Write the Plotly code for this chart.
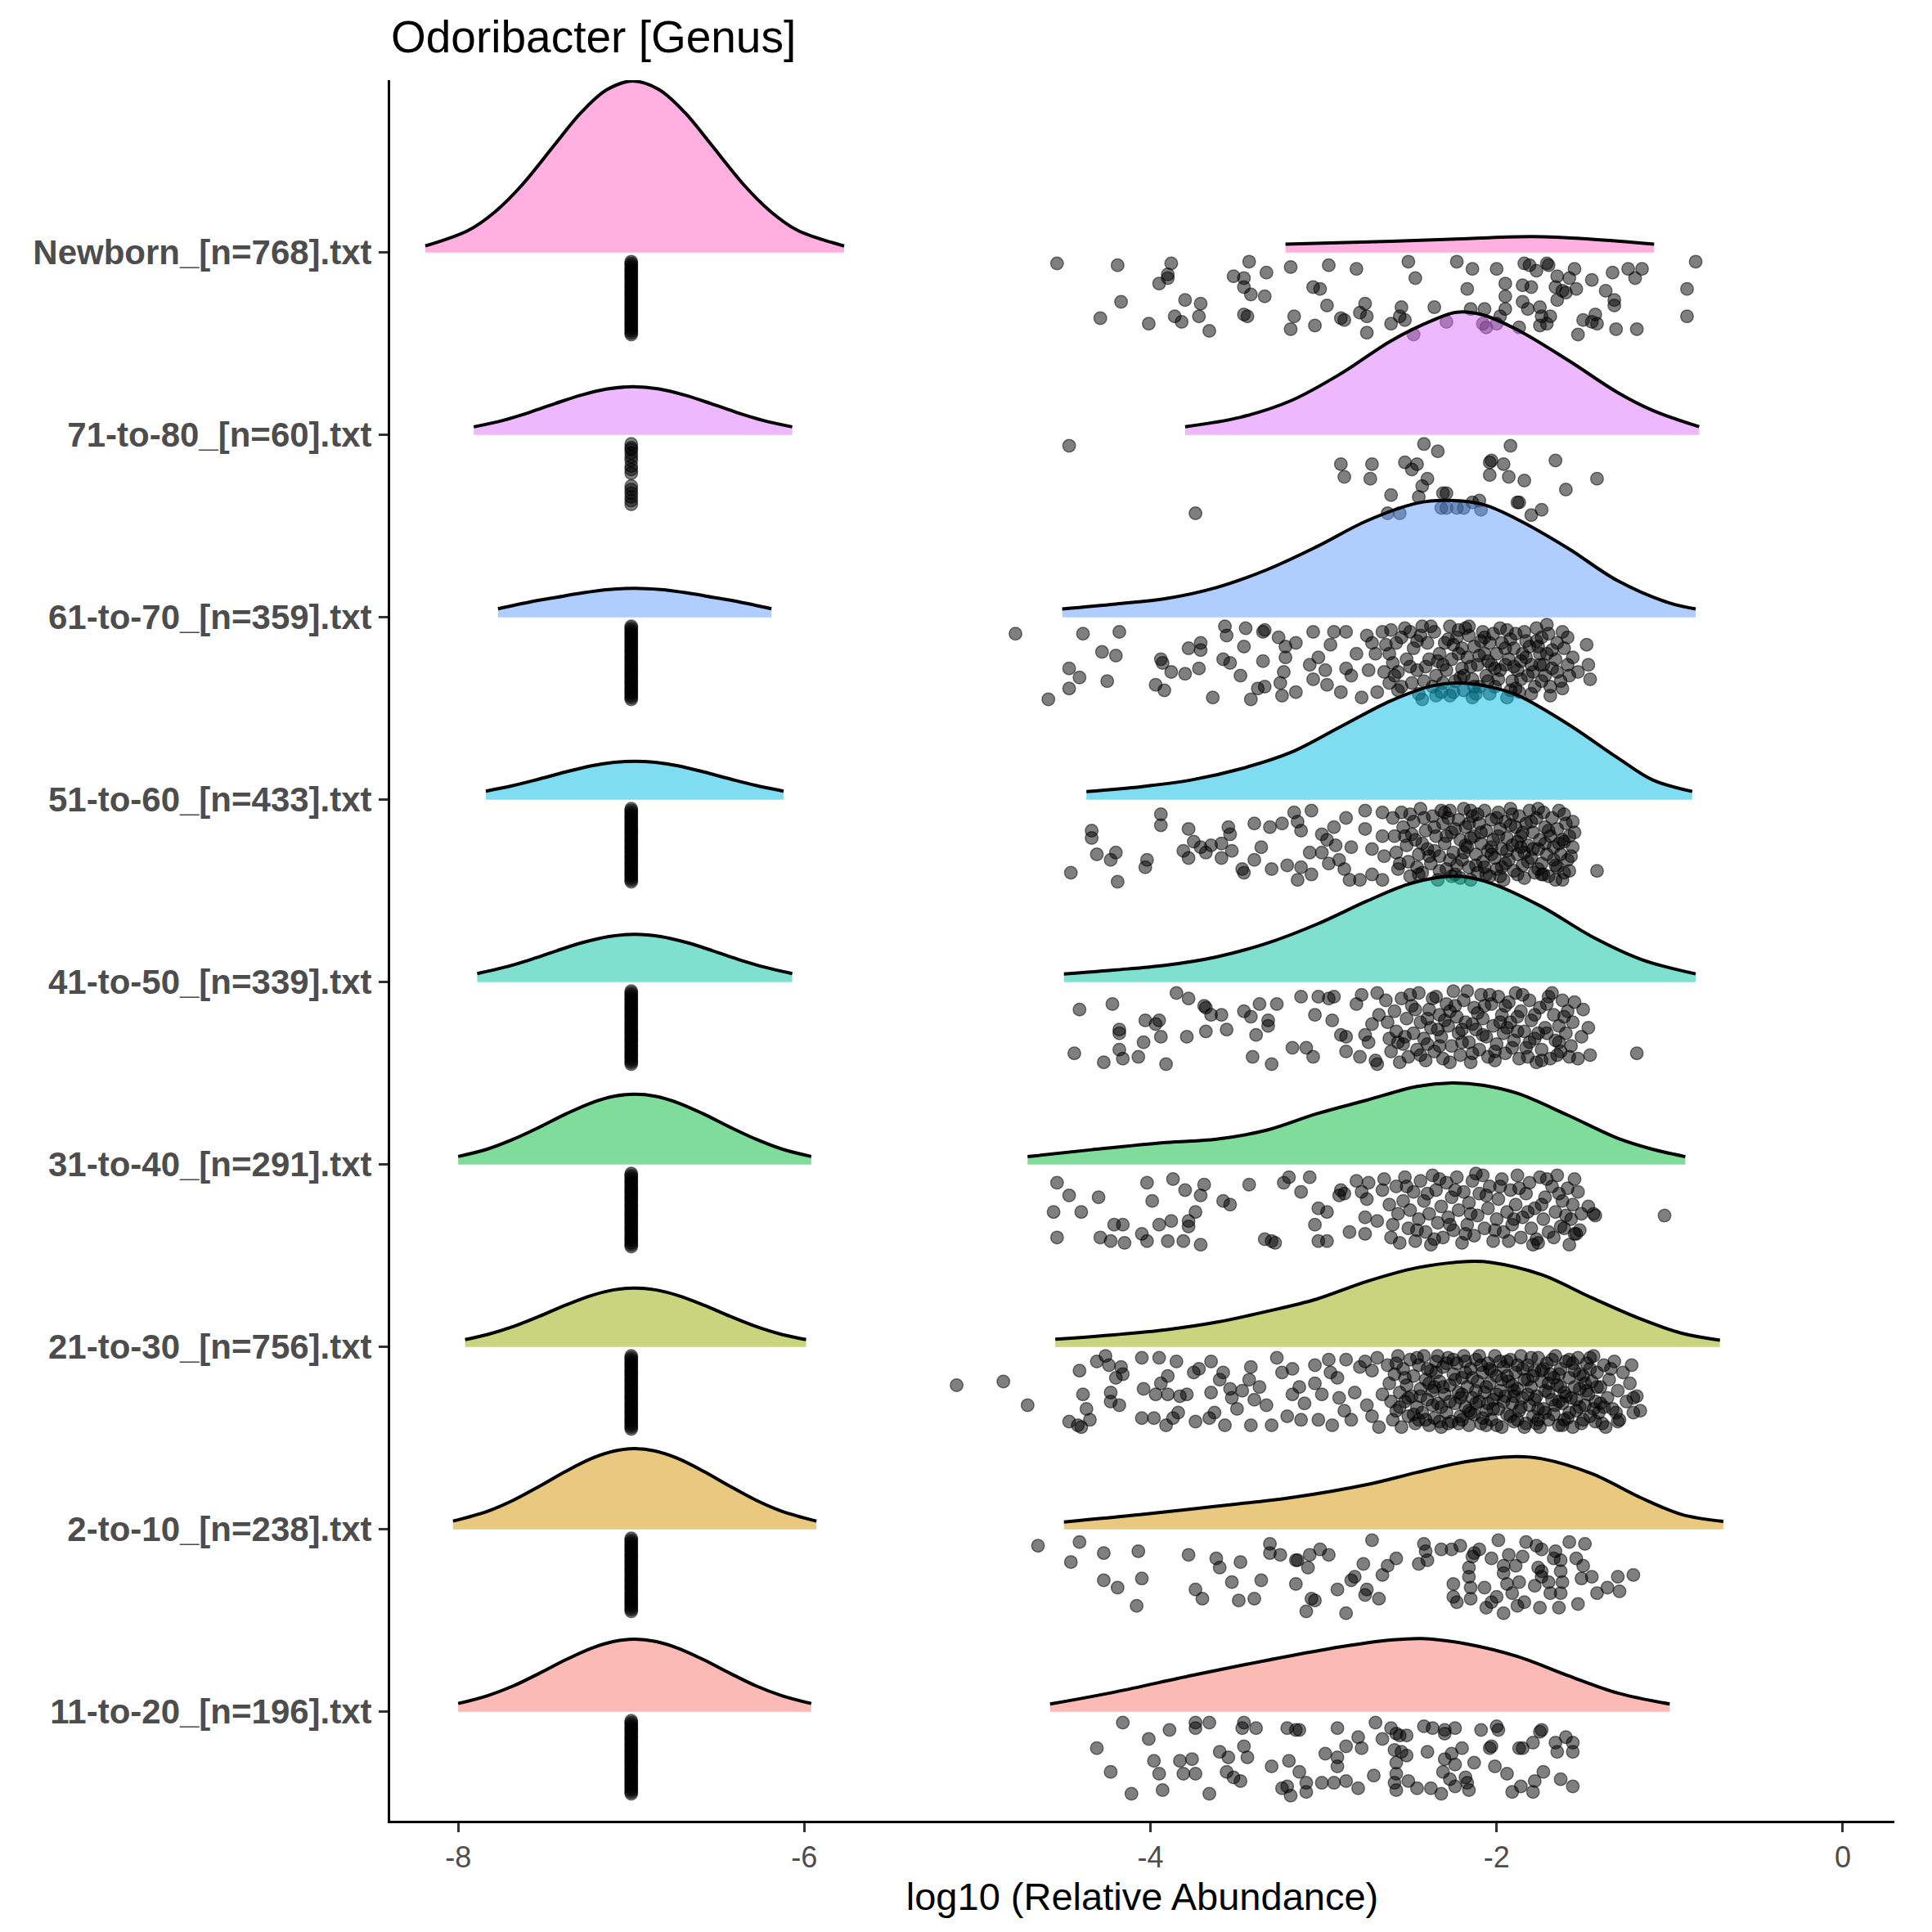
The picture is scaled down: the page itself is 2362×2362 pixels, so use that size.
import plotly.graph_objects as go

# ridgeline / raincloud of log10 relative abundance per age group
groups = ["11-to-20_[n=196].txt", "2-to-10_[n=238].txt", "21-to-30_[n=756].txt",
          "31-to-40_[n=291].txt", "41-to-50_[n=339].txt", "51-to-60_[n=433].txt",
          "61-to-70_[n=359].txt", "71-to-80_[n=60].txt", "Newborn_[n=768].txt"]
fills = ["rgba(248,118,109,0.5)", "rgba(211,146,0,0.5)", "rgba(147,170,0,0.5)",
         "rgba(0,186,56,0.5)", "rgba(0,193,159,0.5)", "rgba(0,185,227,0.5)",
         "rgba(97,156,255,0.5)", "rgba(219,114,251,0.5)", "rgba(255,97,195,0.5)"]
xticks = [-8, -6, -4, -2, 0]

# density heights (left hump = zero values at -7, right hump = detected values)
g11_left_x = [-8.0, -7.83, -7.68, -7.53, -7.38, -7.23, -7.10, -6.98, -6.86, -6.73, -6.58, -6.43, -6.28, -6.13, -5.96]
g11_left_h = [0.045, 0.088, 0.142, 0.211, 0.284, 0.348, 0.385, 0.397, 0.385, 0.348, 0.284, 0.211, 0.142, 0.088, 0.045]
g11_right_x = [-4.58, -4.20, -3.76, -3.33, -2.90, -2.61, -2.43, -2.17, -1.88, -1.59, -1.30, -1.00]
g11_right_h = [0.042, 0.109, 0.199, 0.281, 0.356, 0.393, 0.401, 0.371, 0.303, 0.199, 0.102, 0.042]

g2_left_x = [-8.03, -7.83, -7.68, -7.53, -7.38, -7.23, -7.10, -6.98, -6.86, -6.73, -6.58, -6.43, -6.28, -6.13, -5.93]
g2_left_h = [0.045, 0.099, 0.16, 0.236, 0.317, 0.388, 0.429, 0.442, 0.429, 0.388, 0.317, 0.236, 0.16, 0.099, 0.045]
g2_right_x = [-4.50, -4.05, -3.62, -3.19, -2.75, -2.46, -2.17, -1.91, -1.74, -1.45, -1.16, -0.93, -0.69]
g2_right_h = [0.04, 0.081, 0.126, 0.173, 0.245, 0.312, 0.372, 0.398, 0.387, 0.305, 0.17, 0.081, 0.043]

g21_left_x = [-7.96, -7.83, -7.68, -7.53, -7.38, -7.23, -7.10, -6.98, -6.86, -6.73, -6.58, -6.43, -6.28, -6.13, -5.99]
g21_left_h = [0.04, 0.068, 0.112, 0.168, 0.229, 0.282, 0.313, 0.323, 0.313, 0.282, 0.229, 0.168, 0.112, 0.068, 0.04]
g21_right_x = [-4.55, -4.20, -3.91, -3.62, -3.33, -3.04, -2.75, -2.46, -2.17, -2.03, -1.74, -1.45, -1.16, -0.93, -0.71]
g21_right_h = [0.042, 0.067, 0.094, 0.135, 0.194, 0.262, 0.359, 0.434, 0.468, 0.463, 0.396, 0.269, 0.15, 0.075, 0.037]

g31_left_x = [-8.0, -7.83, -7.68, -7.53, -7.38, -7.23, -7.10, -6.98, -6.86, -6.73, -6.58, -6.43, -6.28, -6.13, -5.96]
g31_left_h = [0.044, 0.085, 0.139, 0.205, 0.276, 0.338, 0.374, 0.385, 0.374, 0.338, 0.276, 0.205, 0.139, 0.085, 0.044]
g31_right_x = [-4.71, -4.34, -3.91, -3.62, -3.33, -3.04, -2.75, -2.46, -2.26, -2.08, -1.88, -1.59, -1.30, -1.10, -0.91]
g31_right_h = [0.043, 0.081, 0.121, 0.139, 0.188, 0.278, 0.353, 0.428, 0.447, 0.435, 0.39, 0.271, 0.144, 0.084, 0.043]

g41_left_x = [-7.89, -7.73, -7.58, -7.43, -7.28, -7.13, -6.98, -6.83, -6.68, -6.53, -6.38, -6.23, -6.07]
g41_left_h = [0.047, 0.082, 0.124, 0.172, 0.217, 0.25, 0.262, 0.25, 0.217, 0.172, 0.124, 0.082, 0.047]
g41_right_x = [-4.50, -4.20, -3.91, -3.62, -3.33, -3.04, -2.75, -2.52, -2.32, -2.20, -2.03, -1.74, -1.45, -1.16, -0.85]
g41_right_h = [0.045, 0.067, 0.093, 0.138, 0.212, 0.317, 0.444, 0.534, 0.576, 0.579, 0.541, 0.414, 0.25, 0.123, 0.045]

g51_left_x = [-7.84, -7.68, -7.53, -7.38, -7.23, -7.10, -6.98, -6.86, -6.73, -6.58, -6.43, -6.28, -6.12]
g51_left_h = [0.047, 0.078, 0.114, 0.152, 0.186, 0.205, 0.211, 0.205, 0.186, 0.152, 0.114, 0.078, 0.047]
g51_right_x = [-4.37, -4.05, -3.76, -3.48, -3.19, -2.90, -2.61, -2.37, -2.20, -2.03, -1.88, -1.59, -1.30, -1.10, -0.87]
g51_right_h = [0.045, 0.072, 0.109, 0.169, 0.259, 0.401, 0.543, 0.625, 0.64, 0.617, 0.573, 0.416, 0.229, 0.109, 0.045]

g61_left_x = [-7.77, -7.58, -7.43, -7.28, -7.13, -6.98, -6.83, -6.68, -6.53, -6.38, -6.19]
g61_left_h = [0.047, 0.085, 0.11, 0.134, 0.152, 0.159, 0.152, 0.134, 0.11, 0.085, 0.047]
g61_right_x = [-4.51, -4.20, -3.91, -3.62, -3.33, -3.04, -2.75, -2.46, -2.29, -2.08, -1.88, -1.59, -1.30, -1.01, -0.85]
g61_right_h = [0.046, 0.073, 0.103, 0.163, 0.26, 0.387, 0.529, 0.626, 0.641, 0.619, 0.537, 0.38, 0.2, 0.081, 0.046]

g71_left_x = [-7.91, -7.74, -7.59, -7.44, -7.29, -7.14, -6.99, -6.84, -6.69, -6.54, -6.39, -6.24, -6.07]
g71_left_h = [0.044, 0.080, 0.123, 0.172, 0.218, 0.252, 0.264, 0.252, 0.218, 0.172, 0.123, 0.080, 0.044]
g71_right_x = [-3.80, -3.48, -3.19, -2.90, -2.61, -2.37, -2.23, -2.08, -1.88, -1.59, -1.30, -1.10, -0.83]
g71_right_h = [0.045, 0.097, 0.187, 0.336, 0.516, 0.628, 0.673, 0.658, 0.576, 0.411, 0.232, 0.135, 0.045]

nb_left_x = [-8.19, -7.94, -7.79, -7.64, -7.44, -7.29, -7.14, -6.99, -6.84, -6.69, -6.54, -6.34, -6.19, -6.04, -5.77]
nb_left_h = [0.036, 0.122, 0.221, 0.361, 0.594, 0.767, 0.893, 0.94, 0.893, 0.767, 0.594, 0.361, 0.221, 0.122, 0.036]
nb_right_x = [-3.22, -2.61, -2.17, -1.79, -1.45, -1.09]
nb_right_h = [0.046, 0.061, 0.076, 0.087, 0.073, 0.046]

# zero abundance samples (plotted at log10 = -7), jitter below the ridge baseline
zero_value = -7
zero_offsets = [0.05, 0.06, 0.07, 0.08, 0.09, 0.10, 0.11, 0.12, 0.13, 0.14, 0.15, 0.16, 0.17, 0.18,
                0.19, 0.20, 0.21, 0.22, 0.23, 0.24, 0.25, 0.26, 0.27, 0.28, 0.29, 0.30, 0.31, 0.32,
                0.33, 0.34, 0.35, 0.36, 0.37, 0.38, 0.39, 0.40, 0.41, 0.42, 0.43, 0.44, 0.45]
zero_offsets_71 = [0.05, 0.07, 0.08, 0.10, 0.12, 0.14, 0.17, 0.19, 0.21,
                   0.28, 0.30, 0.32, 0.34, 0.36, 0.38]

# detected samples: (log10 abundance, jitter below baseline)
g11_pts = [(-4.16,0.06),(-4.01,0.15),(-3.89,0.10),(-4.31,0.20),(-4.23,0.33),(-4.11,0.45),(-3.98,0.27),(-3.95,0.34),
    (-3.93,0.43),(-3.83,0.27),(-3.76,0.26),(-3.81,0.34),(-3.74,0.34),(-3.74,0.06),(-3.74,0.09),(-3.66,0.06),
    (-3.60,0.22),(-3.55,0.25),(-3.56,0.33),(-3.52,0.36),(-3.48,0.38),(-3.66,0.45),(-3.46,0.06),(-3.47,0.09),
    (-3.39,0.09),(-3.46,0.19),(-3.44,0.25),(-3.30,0.30),(-3.21,0.09),(-3.16,0.10),(-3.14,0.10),(-3.20,0.27),
    (-3.14,0.33),(-3.24,0.42),(-3.21,0.41),(-3.19,0.46),(-3.10,0.39),(-3.10,0.44),(-3.01,0.39),(-2.99,0.23),
    (-2.92,0.09),(-2.92,0.25),(-2.92,0.30),(-2.87,0.19),(-2.87,0.38),(-2.94,0.39),(-2.80,0.14),(-2.78,0.20),
    (-2.80,0.42),(-2.71,0.35),(-2.70,0.06),(-2.66,0.15),(-2.61,0.09),(-2.58,0.12),(-2.56,0.13),(-2.52,0.13),
    (-2.59,0.21),(-2.55,0.22),(-2.52,0.24),(-2.58,0.28),(-2.58,0.34),(-2.59,0.39),(-2.58,0.43),(-2.51,0.38),
    (-2.46,0.42),(-2.42,0.08),(-2.37,0.09),(-2.30,0.10),(-2.24,0.09),(-2.30,0.12),(-2.40,0.22),(-2.30,0.26),
    (-2.26,0.23),(-2.24,0.29),(-2.20,0.20),(-2.31,0.33),(-2.27,0.37),(-2.18,0.36),(-2.17,0.39),(-2.38,0.42),
    (-2.32,0.45),(-2.24,0.41),(-2.16,0.43),(-2.13,0.28),(-2.09,0.10),(-2.00,0.08),(-1.99,0.10),(-2.04,0.20),
    (-2.01,0.30),(-1.94,0.34),(-1.91,0.44),(-1.86,0.41),(-1.87,0.20),(-1.85,0.20),(-1.79,0.17),(-1.75,0.11),
    (-1.74,0.10),(-1.73,0.33),(-1.78,0.38),(-1.79,0.44),(-1.66,0.17),(-1.65,0.22),(-1.60,0.14),(-1.56,0.17),
    (-1.56,0.22),(-1.63,0.37),(-1.56,0.41),(-2.03,0.19)]

g2_pts = [(-4.65,0.09),(-4.41,0.07),(-4.46,0.18),(-4.27,0.13),(-4.07,0.12),(-4.27,0.28),(-4.19,0.32),(-4.05,0.27),
    (-4.08,0.42),(-3.78,0.14),(-3.62,0.16),(-3.60,0.21),(-3.48,0.18),(-3.74,0.33),(-3.70,0.38),(-3.53,0.29),
    (-3.49,0.39),(-3.40,0.38),(-3.36,0.28),(-3.31,0.08),(-3.31,0.13),(-3.25,0.14),(-3.16,0.17),(-3.15,0.17),
    (-3.08,0.14),(-3.09,0.21),(-3.02,0.11),(-2.97,0.14),(-3.16,0.30),(-3.07,0.38),(-3.05,0.39),(-3.10,0.45),
    (-2.92,0.33),(-2.84,0.28),(-2.82,0.26),(-2.75,0.33),(-2.76,0.36),(-2.68,0.38),(-2.87,0.46),(-2.72,0.06),
    (-2.77,0.19),(-2.66,0.25),(-2.63,0.20),(-2.58,0.16),(-2.45,0.19),(-2.42,0.08),(-2.41,0.12),(-2.40,0.17),
    (-2.32,0.11),(-2.26,0.11),(-2.21,0.09),(-2.13,0.13),(-2.14,0.15),(-2.10,0.11),(-1.99,0.06),(-1.83,0.07),
    (-1.77,0.09),(-1.74,0.11),(-1.66,0.12),(-1.58,0.07),(-1.49,0.08),(-1.93,0.14),(-1.85,0.15),(-1.67,0.16),
    (-1.63,0.17),(-1.54,0.16),(-1.50,0.20),(-2.16,0.21),(-1.96,0.20),(-1.89,0.20),(-1.74,0.23),(-1.63,0.23),
    (-2.16,0.26),(-1.96,0.24),(-1.74,0.26),(-1.51,0.27),(-1.45,0.26),(-1.30,0.26),(-1.21,0.25),(-2.25,0.30),
    (-2.15,0.32),(-2.07,0.32),(-1.94,0.30),(-1.87,0.29),(-1.78,0.31),(-1.70,0.29),(-1.62,0.29),(-2.25,0.37),
    (-2.15,0.38),(-2.00,0.37),(-1.91,0.35),(-1.84,0.40),(-1.69,0.35),(-1.63,0.35),(-1.42,0.35),(-1.36,0.32),
    (-1.29,0.34),(-2.06,0.43),(-1.96,0.46),(-1.75,0.43),(-1.64,0.43),(-1.53,0.41),(-1.88,0.42),(-2.23,0.40),
    (-2.03,0.40),(-1.76,0.21),(-2.03,0.16)]

g21_pts = [(-5.12,0.21),(-4.85,0.19),(-4.71,0.32),
    (-4.47,0.41),(-4.42,0.43),(-4.40,0.44),(-4.35,0.40),(-4.37,0.34),(-4.39,0.26),(-4.41,0.13),(-4.31,0.08),
    (-4.26,0.05),(-4.24,0.10),(-4.17,0.11),(-4.16,0.15),(-4.20,0.17),(-4.23,0.25),(-4.18,0.32),(-4.23,0.30),
    (-4.05,0.06),(-3.95,0.06),(-4.04,0.23),(-3.97,0.26),(-4.05,0.39),(-3.98,0.39),(-3.94,0.20),(-3.90,0.16),
    (-3.85,0.08),(-3.90,0.26),(-3.83,0.27),(-3.79,0.26),(-3.91,0.43),(-3.87,0.39),(-3.84,0.36),(-3.74,0.41),
    (-3.75,0.14),(-3.72,0.12),(-3.65,0.08),(-3.65,0.25),(-3.63,0.36),(-3.66,0.39),(-3.60,0.18),(-3.58,0.14),
    (-3.57,0.43),(-3.54,0.23),(-3.53,0.28),(-3.50,0.34),(-3.47,0.24),(-3.42,0.11),(-3.43,0.18),(-3.40,0.29),
    (-3.42,0.43),(-3.37,0.22),(-3.33,0.32),(-3.30,0.43),(-3.27,0.06),(-3.24,0.14),(-3.21,0.38),(-3.18,0.26),
    (-3.18,0.12),(-3.14,0.22),(-3.13,0.40),(-3.11,0.31),(-3.05,0.20),(-3.05,0.10),(-3.03,0.40),(-3.01,0.26),
    (-2.97,0.07),(-2.96,0.14),(-2.95,0.43),(-2.92,0.17),(-2.91,0.28),(-2.88,0.35),(-2.87,0.07),(-2.84,0.40),
    (-2.82,0.25),(-2.79,0.11),(-2.76,0.08),(-2.75,0.32),(-2.72,0.13),(-2.72,0.38),(-2.69,0.06),(-2.66,0.26),
    (-2.68,0.44),
    (-2.63,0.10),(-2.62,0.20),(-2.61,0.30),(-2.60,0.40),(-2.59,0.15),(-2.58,0.35),(-2.57,0.05),(-2.56,0.25),
    (-2.55,0.44),(-2.54,0.12),(-2.53,0.30),(-2.52,0.21),(-2.51,0.38),(-2.50,0.07),(-2.49,0.27),(-2.48,0.16),
    (-2.47,0.42),(-2.46,0.33),(-2.45,0.10),(-2.44,0.23),(-2.43,0.36),(-2.42,0.05),(-2.41,0.18),(-2.40,0.29),
    (-2.39,0.43),(-2.38,0.13),(-2.37,0.24),(-2.36,0.39),(-2.35,0.08),(-2.34,0.31),(-2.33,0.19),(-2.32,0.44),
    (-2.31,0.11),(-2.30,0.26),(-2.29,0.36),(-2.28,0.06),(-2.27,0.21),(-2.26,0.41),(-2.25,0.15),(-2.24,0.31),
    (-2.23,0.09),(-2.22,0.25),(-2.21,0.38),(-2.20,0.17),(-2.19,0.05),(-2.18,0.33),(-2.17,0.22),(-2.16,0.43),
    (-2.15,0.12),(-2.14,0.28),(-2.13,0.37),(-2.12,0.07),(-2.11,0.19),(-2.10,0.30),(-2.09,0.42),(-2.08,0.14),
    (-2.07,0.25),(-2.06,0.35),(-2.05,0.09),(-2.04,0.20),(-2.03,0.40),(-2.02,0.29),(-2.01,0.05),(-2.00,0.16),
    (-1.99,0.34),(-1.98,0.24),(-1.97,0.44),(-1.96,0.11),(-1.95,0.27),(-1.94,0.37),(-1.93,0.19),(-1.92,0.07),
    (-1.91,0.31),(-1.90,0.41),(-1.89,0.14),(-1.88,0.23),(-1.87,0.35),(-1.86,0.05),(-1.85,0.28),(-1.84,0.18),
    (-1.83,0.42),(-1.82,0.10),(-1.81,0.32),(-1.80,0.22),(-1.79,0.38),(-1.78,0.13),(-1.77,0.27),(-1.76,0.06),
    (-1.75,0.44),(-1.74,0.19),(-1.73,0.34),(-1.72,0.24),(-1.71,0.09),(-1.70,0.40),(-1.69,0.15),(-1.68,0.29),
    (-1.67,0.37),(-1.66,0.05),(-1.65,0.21),(-1.64,0.43),(-1.63,0.12),(-1.62,0.31),(-1.61,0.25),(-1.60,0.08),
    (-1.59,0.39),(-1.58,0.17),(-1.57,0.28),(-1.56,0.44),(-1.55,0.13),(-1.54,0.35),(-1.53,0.06),(-1.52,0.23),
    (-1.51,0.42),(-1.50,0.16),(-1.49,0.32),(-1.48,0.09),(-1.47,0.26),(-1.46,0.38),(-1.45,0.19),(-1.44,0.05),
    (-1.43,0.30),(-1.42,0.14),(-1.41,0.36),(-1.40,0.22),(-1.39,0.42),(-1.38,0.10),(-1.36,0.28),(-1.35,0.18),
    (-1.33,0.34),(-1.32,0.08),(-1.30,0.24),(-1.29,0.40),(-1.27,0.14),(-1.25,0.30),(-1.23,0.20),(-1.21,0.36),
    (-1.19,0.27),(-1.22,0.10),(-1.21,0.28),(-1.17,0.35),(-1.37,0.44),(-1.30,0.41),
    (-2.45,0.40),(-2.40,0.12),(-2.36,0.22),(-2.32,0.33),(-2.28,0.42),(-2.25,0.07),(-2.21,0.28),(-2.18,0.14),
    (-2.15,0.36),(-2.12,0.24),(-2.09,0.10),(-2.06,0.43),(-2.03,0.13),(-2.00,0.26),(-1.97,0.18),(-1.94,0.08),
    (-1.91,0.21),(-1.88,0.40),(-1.85,0.12),(-1.82,0.26),(-1.79,0.16),(-1.76,0.34),(-1.73,0.12),(-1.70,0.25),
    (-1.67,0.17),(-1.64,0.30),(-1.61,0.40),(-1.58,0.07),(-1.55,0.22),(-1.52,0.33),(-1.49,0.20),(-1.46,0.12),
    (-1.43,0.41),(-1.40,0.31),(-2.20,0.40),(-2.05,0.31),(-1.90,0.27),(-1.77,0.42),(-2.34,0.05),(-1.63,0.22)]
g21_pts_core = [(-2.58,0.09),(-2.56,0.33),(-2.53,0.17),(-2.51,0.28),(-2.48,0.37),(-2.46,0.06),(-2.44,0.27),
    (-2.41,0.40),(-2.39,0.20),(-2.37,0.32),(-2.35,0.14),(-2.33,0.41),(-2.31,0.22),(-2.29,0.09),(-2.27,0.30),
    (-2.24,0.18),(-2.22,0.42),(-2.20,0.26),(-2.18,0.08),(-2.16,0.35),(-2.14,0.17),(-2.12,0.31),(-2.10,0.05),
    (-2.08,0.39),(-2.06,0.22),(-2.04,0.12),(-2.02,0.34),(-2.00,0.43),(-1.98,0.08),(-1.96,0.30),(-1.94,0.16),
    (-1.92,0.38),(-1.90,0.24),(-1.88,0.10),(-1.86,0.33),(-1.84,0.44),(-1.82,0.18),(-1.80,0.06),(-1.78,0.29),
    (-1.76,0.40),(-1.74,0.13),(-1.72,0.36),(-1.70,0.20),(-1.68,0.07),(-1.66,0.32),(-1.64,0.15),(-1.62,0.43),
    (-1.60,0.27),(-1.58,0.36),(-1.56,0.09),(-1.54,0.29),(-1.52,0.15),(-1.50,0.40),(-1.48,0.24),(-1.46,0.06),
    (-1.44,0.34),(-1.42,0.22),(-1.38,0.33),(-1.34,0.12),(-1.31,0.36)]

g31_pts = [(-4.54,0.10),(-4.47,0.17),(-4.56,0.26),(-4.40,0.26),(-4.54,0.40),(-4.30,0.18),(-4.29,0.40),(-4.23,0.42),
    (-4.21,0.33),(-4.16,0.33),(-4.15,0.43),(-4.05,0.38),(-4.02,0.42),(-4.02,0.10),(-3.99,0.20),(-3.95,0.33),
    (-3.87,0.08),(-3.88,0.31),(-3.90,0.42),(-3.80,0.14),(-3.78,0.31),(-3.78,0.34),(-3.81,0.42),(-3.74,0.26),
    (-3.71,0.17),(-3.69,0.11),(-3.71,0.44),(-3.58,0.20),(-3.54,0.22),(-3.43,0.11),(-3.34,0.41),(-3.30,0.42),
    (-3.28,0.43),(-3.23,0.10),(-3.20,0.07),(-3.13,0.15),(-3.08,0.07),(-3.05,0.33),(-3.03,0.24),(-2.98,0.26),
    (-3.03,0.42),(-2.98,0.42),(-2.90,0.14),(-2.91,0.17),(-2.88,0.16),(-2.85,0.37),(-2.81,0.09),(-2.76,0.38),
    (-2.75,0.19),(-2.74,0.10),(-2.78,0.15),(-2.76,0.29),(-2.69,0.31),(-2.66,0.14),(-2.65,0.08),
    (-2.62,0.22),(-2.61,0.40),(-2.60,0.33),(-2.58,0.12),(-2.57,0.27),(-2.56,0.43),(-2.54,0.20),(-2.53,0.07),
    (-2.51,0.35),(-2.50,0.25),(-2.48,0.15),(-2.47,0.42),(-2.45,0.30),(-2.44,0.09),(-2.42,0.20),(-2.41,0.37),
    (-2.39,0.27),(-2.38,0.44),(-2.37,0.06),(-2.35,0.14),(-2.34,0.32),(-2.32,0.23),(-2.31,0.40),(-2.29,0.10),
    (-2.28,0.29),(-2.26,0.18),(-2.25,0.36),(-2.23,0.07),(-2.22,0.25),(-2.20,0.43),(-2.19,0.15),(-2.17,0.33),
    (-2.16,0.21),(-2.14,0.09),(-2.13,0.39),(-2.11,0.28),(-2.10,0.16),(-2.08,0.06),(-2.07,0.35),(-2.05,0.24),
    (-2.04,0.12),(-2.02,0.42),(-2.00,0.30),(-1.99,0.19),(-1.97,0.08),(-1.96,0.37),(-1.94,0.26),(-1.92,0.14),
    (-1.91,0.33),(-1.89,0.22),(-1.88,0.06),(-1.86,0.40),(-1.85,0.29),(-1.83,0.16),(-1.81,0.10),(-1.80,0.35),
    (-1.78,0.24),(-1.76,0.43),(-1.75,0.07),(-1.73,0.30),(-1.72,0.18),(-1.70,0.37),(-1.68,0.12),(-1.66,0.26),
    (-1.65,0.06),(-1.63,0.34),(-1.62,0.20),(-1.60,0.28),(-1.59,0.13),(-1.56,0.22),(-1.55,0.08),(-1.53,0.15),
    (-1.51,0.27),(-1.47,0.23),(-1.44,0.27),(-1.55,0.38),(-1.58,0.44),(-1.03,0.28),(-1.43,0.28),(-1.54,0.38),
    (-1.77,0.41)]
g31_pts_core = [(-2.52,0.12),(-2.46,0.36),(-2.40,0.16),(-2.36,0.41),(-2.33,0.08),(-2.27,0.33),(-2.24,0.14),
    (-2.18,0.38),(-2.15,0.27),(-2.12,0.05),(-2.06,0.17),(-2.01,0.36),(-1.98,0.12),(-1.93,0.42),(-1.90,0.30),
    (-1.87,0.13),(-1.82,0.26),(-1.79,0.44),(-1.74,0.22),(-1.71,0.08),(-1.67,0.40),(-1.64,0.16),(-1.61,0.35),
    (-1.57,0.30),(-1.52,0.36)]

g41_pts = [(-4.41,0.15),(-4.22,0.12),(-4.44,0.39),(-4.27,0.44),(-4.18,0.26),(-4.18,0.28),(-4.18,0.37),(-4.16,0.42),
    (-4.07,0.41),(-4.04,0.33),(-4.03,0.21),(-3.97,0.23),(-3.95,0.21),(-3.94,0.30),(-3.91,0.45),(-3.85,0.06),
    (-3.78,0.09),(-3.79,0.30),(-3.69,0.13),(-3.68,0.14),(-3.68,0.27),(-3.65,0.18),(-3.59,0.18),(-3.56,0.26),
    (-3.46,0.16),(-3.42,0.19),(-3.37,0.12),(-3.32,0.21),(-3.32,0.24),(-3.39,0.29),(-3.41,0.41),(-3.30,0.45),
    (-3.27,0.12),(-3.18,0.36),(-3.10,0.36),(-3.06,0.41),(-3.13,0.08),(-3.05,0.18),(-3.03,0.08),(-2.97,0.09),
    (-2.94,0.08),(-2.95,0.21),(-2.90,0.29),(-2.87,0.30),(-2.87,0.38),(-2.81,0.12),(-2.78,0.07),(-2.79,0.41),
    (-2.76,0.29),(-2.74,0.33),(-2.72,0.23),(-2.69,0.06),(-2.70,0.43),(-2.69,0.45),(-2.68,0.18),
    (-2.64,0.10),(-2.63,0.22),(-2.62,0.31),(-2.61,0.38),(-2.59,0.16),(-2.58,0.27),(-2.56,0.44),(-2.55,0.09),
    (-2.54,0.34),(-2.52,0.20),(-2.51,0.41),(-2.49,0.13),(-2.48,0.28),(-2.46,0.37),(-2.45,0.06),(-2.44,0.22),
    (-2.42,0.31),(-2.41,0.43),(-2.39,0.15),(-2.38,0.25),(-2.36,0.38),(-2.35,0.08),(-2.33,0.18),(-2.32,0.30),
    (-2.31,0.42),(-2.29,0.12),(-2.28,0.24),(-2.26,0.35),(-2.25,0.05),(-2.23,0.19),(-2.22,0.28),(-2.21,0.40),
    (-2.19,0.10),(-2.18,0.22),(-2.16,0.33),(-2.15,0.44),(-2.13,0.14),(-2.12,0.26),(-2.10,0.37),(-2.09,0.07),
    (-2.08,0.20),(-2.06,0.30),(-2.05,0.41),(-2.03,0.12),(-2.02,0.24),(-2.00,0.34),(-1.99,0.08),(-1.97,0.18),
    (-1.96,0.28),(-1.95,0.39),(-1.93,0.11),(-1.92,0.22),(-1.90,0.32),(-1.89,0.06),(-1.87,0.42),(-1.86,0.16),
    (-1.84,0.27),(-1.83,0.36),(-1.81,0.10),(-1.80,0.21),(-1.78,0.31),(-1.77,0.44),(-1.75,0.14),(-1.74,0.37),
    (-1.72,0.25),(-1.70,0.08),(-1.69,0.42),(-1.67,0.18),(-1.66,0.32),(-1.64,0.24),(-1.63,0.38),(-1.62,0.10),
    (-1.60,0.28),(-1.59,0.16),(-1.57,0.35),(-1.56,0.22),(-1.53,0.42),(-1.51,0.30),(-1.50,0.15),(-1.47,0.25),
    (-1.46,0.40),(-1.19,0.39),
    (-2.40,0.34),(-2.34,0.26),(-2.27,0.16),(-2.20,0.33),(-2.14,0.23),(-2.07,0.13),(-2.01,0.38),(-1.94,0.25),
    (-1.88,0.19),(-1.82,0.41),(-1.76,0.28),(-1.71,0.12),(-1.65,0.40),(-2.47,0.15),(-2.53,0.30)]
g41_pts_core = [(-2.57,0.33),(-2.50,0.07),(-2.44,0.40),(-2.40,0.20),(-2.37,0.09),(-2.33,0.35),(-2.30,0.21),
    (-2.27,0.44),(-2.24,0.13),(-2.20,0.26),(-2.17,0.05),(-2.14,0.39),(-2.11,0.17),(-2.08,0.29),(-2.04,0.07),
    (-2.01,0.43),(-1.98,0.22),(-1.95,0.13),(-1.91,0.36),(-1.88,0.27),(-1.85,0.07),(-1.81,0.33),(-1.78,0.18),
    (-1.74,0.43),(-1.71,0.28),(-1.68,0.06),(-1.64,0.33),(-1.61,0.19),(-1.58,0.41),(-1.55,0.11)]

g51_pts = [(-3.94,0.08),(-3.94,0.14),(-4.34,0.17),(-4.34,0.21),(-4.31,0.30),(-4.20,0.29),(-4.23,0.33),(-4.46,0.40),
    (-4.19,0.45),(-4.02,0.33),(-4.03,0.37),(-3.78,0.16),(-3.81,0.28),(-3.78,0.32),(-3.75,0.23),(-3.71,0.26),
    (-3.68,0.29),(-3.65,0.25),(-3.59,0.24),(-3.55,0.15),(-3.54,0.19),(-3.53,0.28),(-3.59,0.32),(-3.47,0.38),
    (-3.46,0.40),(-3.40,0.13),(-3.36,0.26),(-3.40,0.33),(-3.31,0.15),(-3.24,0.13),(-3.30,0.38),(-3.21,0.36),
    (-3.17,0.07),(-3.15,0.12),(-3.13,0.17),(-3.07,0.06),(-3.08,0.29),(-3.13,0.37),(-3.15,0.44),(-3.07,0.41),
    (-3.01,0.19),(-2.98,0.22),(-3.01,0.29),(-2.97,0.35),(-2.93,0.25),(-2.91,0.33),(-2.94,0.15),(-2.87,0.10),
    (-2.84,0.26),(-2.88,0.38),(-2.85,0.44),(-2.79,0.44),(-2.76,0.06),(-2.76,0.16),(-2.72,0.27),(-2.72,0.41),
    (-2.66,0.07),(-2.66,0.20),(-2.65,0.31),(-2.66,0.44),
    (-2.60,0.10),(-2.59,0.20),(-2.58,0.29),(-2.57,0.38),(-2.55,0.07),(-2.54,0.15),(-2.52,0.25),(-2.51,0.34),
    (-2.50,0.42),(-2.48,0.12),(-2.47,0.22),(-2.45,0.30),(-2.44,0.05),(-2.43,0.40),(-2.41,0.17),(-2.40,0.27),
    (-2.38,0.35),(-2.37,0.09),(-2.35,0.20),(-2.34,0.44),(-2.33,0.31),(-2.31,0.13),(-2.30,0.24),(-2.29,0.38),
    (-2.27,0.06),(-2.26,0.18),(-2.25,0.29),(-2.24,0.41),(-2.22,0.11),(-2.21,0.22),(-2.20,0.33),(-2.19,0.05),
    (-2.18,0.15),(-2.17,0.26),(-2.16,0.37),(-2.15,0.44),(-2.14,0.09),(-2.13,0.20),(-2.12,0.30),(-2.11,0.40),
    (-2.10,0.13),(-2.09,0.24),(-2.08,0.34),(-2.07,0.06),(-2.06,0.17),(-2.05,0.28),(-2.04,0.42),(-2.03,0.11),
    (-2.02,0.22),(-2.01,0.32),(-2.00,0.38),(-1.99,0.07),(-1.98,0.16),(-1.97,0.27),(-1.96,0.44),(-1.95,0.12),
    (-1.94,0.21),(-1.93,0.33),(-1.92,0.05),(-1.91,0.25),(-1.90,0.39),(-1.89,0.15),(-1.88,0.30),(-1.87,0.09),
    (-1.86,0.20),(-1.85,0.36),(-1.84,0.43),(-1.83,0.13),(-1.82,0.25),(-1.81,0.06),(-1.80,0.32),(-1.79,0.18),
    (-1.78,0.40),(-1.77,0.10),(-1.76,0.27),(-1.75,0.22),(-1.74,0.35),(-1.73,0.07),(-1.72,0.15),(-1.71,0.30),
    (-1.70,0.42),(-1.69,0.20),(-1.68,0.10),(-1.67,0.26),(-1.66,0.36),(-1.65,0.16),(-1.64,0.06),(-1.63,0.30),
    (-1.62,0.22),(-1.61,0.40),(-1.60,0.13),(-1.59,0.33),(-1.58,0.20),(-1.56,0.26),(-1.55,0.18),(-1.62,0.44),
    (-1.66,0.44),(-1.42,0.39),(-1.61,0.23),(-1.65,0.37),(-1.74,0.41),
    (-2.36,0.28),(-2.28,0.10),(-2.23,0.36),(-2.15,0.21),(-2.11,0.08),(-2.07,0.37),(-2.03,0.26),(-1.99,0.20),
    (-1.95,0.35),(-1.92,0.14),(-1.88,0.23),(-1.84,0.29),(-1.80,0.12),(-1.76,0.38),(-1.72,0.24),(-2.32,0.06),
    (-2.19,0.29),(-2.26,0.42),(-2.46,0.37),(-2.53,0.20)]
g51_pts_core = [(-2.56,0.35),(-2.49,0.19),(-2.45,0.41),(-2.42,0.10),(-2.39,0.31),(-2.36,0.15),(-2.33,0.39),
    (-2.30,0.07),(-2.27,0.33),(-2.24,0.16),(-2.21,0.43),(-2.18,0.25),(-2.15,0.06),(-2.12,0.36),(-2.09,0.18),
    (-2.06,0.41),(-2.03,0.30),(-2.00,0.10),(-1.97,0.37),(-1.94,0.28),(-1.91,0.08),(-1.88,0.41),(-1.85,0.18),
    (-1.82,0.34),(-1.79,0.27),(-1.76,0.05),(-1.73,0.41),(-1.70,0.17),(-1.67,0.33),(-1.64,0.24),(-1.61,0.08),
    (-1.58,0.39),(-1.56,0.12),(-1.57,0.31),(-2.50,0.08),(-2.43,0.24),(-2.29,0.20),(-2.16,0.13),(-1.98,0.42),
    (-1.86,0.26)]

g61_pts = [(-4.78,0.09),(-4.39,0.09),(-4.18,0.08),(-4.28,0.19),(-4.20,0.21),(-4.47,0.28),(-4.41,0.33),(-4.47,0.39),
    (-4.59,0.45),(-4.25,0.35),(-3.94,0.23),(-3.93,0.25),(-3.88,0.30),(-3.80,0.31),(-3.97,0.37),(-3.92,0.40),
    (-3.78,0.17),(-3.71,0.14),(-3.71,0.18),(-3.72,0.28),(-3.64,0.44),(-3.57,0.05),(-3.56,0.10),(-3.45,0.06),
    (-3.34,0.07),(-3.35,0.08),(-3.46,0.16),(-3.58,0.23),(-3.54,0.25),(-3.48,0.32),(-3.35,0.24),(-3.26,0.11),
    (-3.22,0.16),(-3.16,0.14),(-3.22,0.22),(-3.23,0.30),(-3.25,0.36),(-3.34,0.38),(-3.38,0.39),(-3.42,0.45),
    (-3.24,0.43),(-3.16,0.41),(-3.06,0.08),(-3.08,0.26),(-3.06,0.34),(-3.03,0.22),(-2.99,0.29),(-2.98,0.37),
    (-2.96,0.15),(-2.94,0.08),(-2.90,0.41),(-2.87,0.28),(-2.87,0.08),(-2.84,0.32),(-2.81,0.20),(-2.78,0.44),
    (-2.75,0.10),(-2.72,0.14),(-2.74,0.29),(-2.69,0.41),
    (-2.66,0.08),(-2.62,0.20),(-2.61,0.07),(-2.59,0.32),(-2.58,0.14),(-2.55,0.38),(-2.52,0.23),(-2.50,0.08),
    (-2.48,0.17),(-2.46,0.29),(-2.45,0.42),(-2.43,0.05),(-2.42,0.35),(-2.40,0.14),(-2.39,0.23),(-2.36,0.08),
    (-2.35,0.32),(-2.33,0.20),(-2.32,0.41),(-2.30,0.14),(-2.29,0.29),(-2.27,0.05),(-2.26,0.23),(-2.24,0.35),
    (-2.23,0.11),(-2.22,0.07),(-2.20,0.17),(-2.20,0.28),(-2.19,0.40),(-2.17,0.22),(-2.16,0.10),(-2.14,0.34),
    (-2.13,0.16),(-2.11,0.26),(-2.10,0.38),(-2.08,0.08),(-2.07,0.20),(-2.06,0.32),(-2.04,0.14),(-2.03,0.26),
    (-2.01,0.38),(-2.00,0.20),(-1.98,0.29),(-1.97,0.14),(-1.94,0.07),(-1.93,0.23),(-1.91,0.35),(-1.90,0.17),
    (-1.88,0.29),(-1.87,0.41),(-1.85,0.20),(-1.84,0.08),(-1.82,0.32),(-1.81,0.16),(-1.80,0.26),(-1.78,0.38),
    (-1.77,0.06),(-1.75,0.20),(-1.74,0.11),(-1.72,0.32),(-1.71,0.20),(-1.69,0.38),(-1.68,0.28),(-1.65,0.14),
    (-1.62,0.08),(-1.61,0.17),(-1.59,0.26),(-1.58,0.32),(-1.48,0.15),(-1.47,0.26),(-1.46,0.34),(-1.94,0.44),
    (-1.69,0.43),(-2.14,0.44),(-2.35,0.43),
    (-2.55,0.11),(-2.50,0.27),(-2.44,0.10),(-2.37,0.38),(-2.31,0.26),(-2.25,0.15),(-2.21,0.33),(-2.18,0.06),
    (-2.15,0.27),(-2.12,0.42),(-2.09,0.13),(-2.05,0.24),(-2.02,0.09),(-1.99,0.34),(-1.95,0.26),(-1.92,0.12),
    (-1.89,0.39),(-1.86,0.24),(-1.83,0.13),(-1.79,0.30),(-1.76,0.16),(-1.73,0.26),(-1.70,0.09),(-1.66,0.23),
    (-1.63,0.35),(-2.60,0.25),(-2.57,0.40),(-2.65,0.30),(-2.70,0.20),(-2.62,0.36)]
g61_pts_core = [(-2.64,0.15),(-2.57,0.30),(-2.53,0.06),(-2.49,0.36),(-2.46,0.13),(-2.41,0.27),(-2.38,0.05),
    (-2.34,0.24),(-2.31,0.36),(-2.28,0.12),(-2.25,0.41),(-2.22,0.20),(-2.19,0.32),(-2.16,0.05),(-2.13,0.38),
    (-2.10,0.21),(-2.07,0.11),(-2.04,0.42),(-2.01,0.28),(-1.98,0.06),(-1.95,0.17),(-1.92,0.40),(-1.89,0.09),
    (-1.86,0.34),(-1.83,0.22),(-1.80,0.42),(-1.77,0.13),(-1.74,0.35),(-1.71,0.04),(-1.68,0.18),(-1.65,0.30),
    (-1.62,0.39),(-1.59,0.11),(-1.56,0.22),(-1.53,0.30),(-2.43,0.45),(-2.27,0.43),(-2.05,0.35),(-1.90,0.27),
    (-1.75,0.26)]

g71_pts = [(-4.47,0.06),(-2.42,0.05),(-2.34,0.09),(-1.92,0.06),(-2.90,0.16),(-2.72,0.16),(-2.53,0.15),(-2.46,0.16),
    (-2.49,0.19),(-2.04,0.15),(-2.03,0.14),(-1.96,0.16),(-1.66,0.14),(-2.88,0.23),(-2.73,0.24),(-2.40,0.24),
    (-2.43,0.28),(-2.04,0.22),(-1.93,0.23),(-1.84,0.25),(-1.42,0.24),(-2.61,0.33),(-2.45,0.34),(-2.31,0.32),
    (-2.29,0.32),(-1.60,0.30),(-3.74,0.43),(-2.63,0.43),(-2.56,0.43),(-2.32,0.40),(-2.29,0.40),(-2.23,0.40),
    (-2.19,0.40),(-2.14,0.37),(-2.10,0.36),(-2.09,0.41),(-1.88,0.37),(-1.87,0.37),(-1.74,0.41),(-1.80,0.44)]

nb_pts = [(-4.54,0.06),(-4.19,0.07),(-3.88,0.06),(-3.43,0.05),(-3.19,0.08),(-2.97,0.07),(-2.81,0.09),(-2.51,0.05),
    (-2.23,0.05),(-2.14,0.09),(-2.00,0.09),(-1.84,0.06),(-1.81,0.07),(-1.71,0.06),(-1.70,0.07),(-1.55,0.09),
    (-1.33,0.11),(-1.24,0.09),(-1.16,0.09),(-0.85,0.05),
    (-3.90,0.12),(-3.90,0.14),(-3.95,0.17),(-3.52,0.13),(-3.46,0.14),(-3.33,0.11),(-2.47,0.14),(-1.77,0.10),
    (-1.65,0.13),(-1.58,0.14),(-1.45,0.15),(-1.20,0.14),(-1.95,0.17),(-1.85,0.18),
    (-3.46,0.19),(-3.42,0.23),(-3.34,0.24),(-3.06,0.19),(-3.02,0.20),(-2.17,0.20),(-1.95,0.24),(-1.80,0.19),
    (-1.66,0.19),(-1.62,0.21),(-1.60,0.22),(-1.54,0.20),(-1.37,0.21),(-0.90,0.20),(-3.80,0.26),
    (-4.17,0.27),(-3.71,0.28),(-2.98,0.29),(-2.76,0.28),(-2.55,0.30),(-2.36,0.30),(-2.15,0.31),(-2.07,0.31),
    (-1.95,0.31),(-1.85,0.27),(-1.75,0.30),(-1.65,0.26),(-1.32,0.26),(-1.32,0.29),(-1.82,0.31),
    (-4.29,0.36),(-4.01,0.39),(-3.86,0.35),(-3.82,0.38),(-3.72,0.35),(-3.46,0.34),(-3.44,0.35),(-3.17,0.35),
    (-2.90,0.36),(-2.88,0.37),(-2.79,0.33),(-2.75,0.35),(-2.61,0.39),(-2.56,0.35),(-2.53,0.37),(-1.98,0.35),
    (-1.74,0.35),(-1.69,0.35),(-1.50,0.37),(-1.43,0.34),(-1.45,0.38),(-1.42,0.39),(-0.90,0.35),
    (-3.66,0.43),(-3.19,0.42),(-3.05,0.40),(-2.75,0.44),(-2.29,0.38),(-2.08,0.39),(-2.06,0.41),(-2.00,0.39),
    (-1.87,0.41),(-1.75,0.40),(-1.71,0.39),(-1.53,0.45),(-1.31,0.42),(-1.19,0.42),(-2.48,0.45)]

ridges = [
    (g11_left_x, g11_left_h, g11_right_x, g11_right_h, g11_pts, zero_offsets),
    (g2_left_x, g2_left_h, g2_right_x, g2_right_h, g2_pts, zero_offsets),
    (g21_left_x, g21_left_h, g21_right_x, g21_right_h, g21_pts + g21_pts_core, zero_offsets),
    (g31_left_x, g31_left_h, g31_right_x, g31_right_h, g31_pts + g31_pts_core, zero_offsets),
    (g41_left_x, g41_left_h, g41_right_x, g41_right_h, g41_pts + g41_pts_core, zero_offsets),
    (g51_left_x, g51_left_h, g51_right_x, g51_right_h, g51_pts + g51_pts_core, zero_offsets),
    (g61_left_x, g61_left_h, g61_right_x, g61_right_h, g61_pts + g61_pts_core, zero_offsets),
    (g71_left_x, g71_left_h, g71_right_x, g71_right_h, g71_pts, zero_offsets_71),
    (nb_left_x, nb_left_h, nb_right_x, nb_right_h, nb_pts, zero_offsets),
]

fig = go.Figure()

# jittered raw points first, so the semi-transparent ridges sit on top
for i, (_, _, _, _, pts, zoffs) in enumerate(ridges):
    base = i + 1
    px = [p[0] for p in pts] + [zero_value] * len(zoffs)
    py = [base - p[1] for p in pts] + [base - o for o in zoffs]
    fig.add_trace(go.Scatter(
        x=px, y=py, mode="markers", showlegend=False, hoverinfo="skip",
        marker=dict(size=15.5, color="rgba(0,0,0,0.5)",
                    line=dict(width=1.5, color="rgba(0,0,0,0.5)"))))

# ridges, top group first so lower ridges overlay
for i in reversed(range(len(ridges))):
    lx, lh, rx, rh, _, _ = ridges[i]
    base = i + 1
    for xs, hs in ((lx, lh), (rx, rh)):
        fig.add_trace(go.Scatter(
            x=xs, y=[base] * len(xs), mode="lines", line=dict(width=0),
            showlegend=False, hoverinfo="skip"))
        fig.add_trace(go.Scatter(
            x=xs, y=[base + h for h in hs], mode="lines", fill="tonexty",
            fillcolor=fills[i], line=dict(color="black", width=4, shape="spline"),
            showlegend=False, hoverinfo="skip"))

# the page body keeps a small default margin, so the figure is 8px smaller
W = 2354
fig.update_layout(
    width=W, height=W,
    margin=dict(l=469, r=46, t=90, b=136),
    paper_bgcolor="white", plot_bgcolor="white",
    font=dict(family="Liberation Sans, Arial, sans-serif"),
    title=dict(text="Odoribacter [Genus]", x=470 / W, xanchor="left",
               y=1 - 37 / W, yanchor="middle", xref="container", yref="container",
               font=dict(size=55, color="black")),
    xaxis=dict(
        range=[-8.393, 0.298], tickvals=xticks, ticktext=[str(v) for v in xticks],
        showgrid=False, zeroline=False, showline=True, linecolor="black", linewidth=3,
        ticks="outside", ticklen=11, tickwidth=3, tickcolor="#333333",
        tickfont=dict(size=36, color="#4D4D4D"),
        title=dict(text="log10 (Relative Abundance)", font=dict(size=47, color="black"),
                   standoff=12)),
    yaxis=dict(
        range=[0.402, 9.945], tickvals=list(range(1, len(groups) + 1)), ticktext=groups,
        showgrid=False, zeroline=False, showline=True, linecolor="black", linewidth=3,
        ticks="outside", ticklen=11, tickwidth=3, tickcolor="#333333",
        tickfont=dict(size=42, color="#4D4D4D", weight="bold")),
)

fig.write_html("out.html")
